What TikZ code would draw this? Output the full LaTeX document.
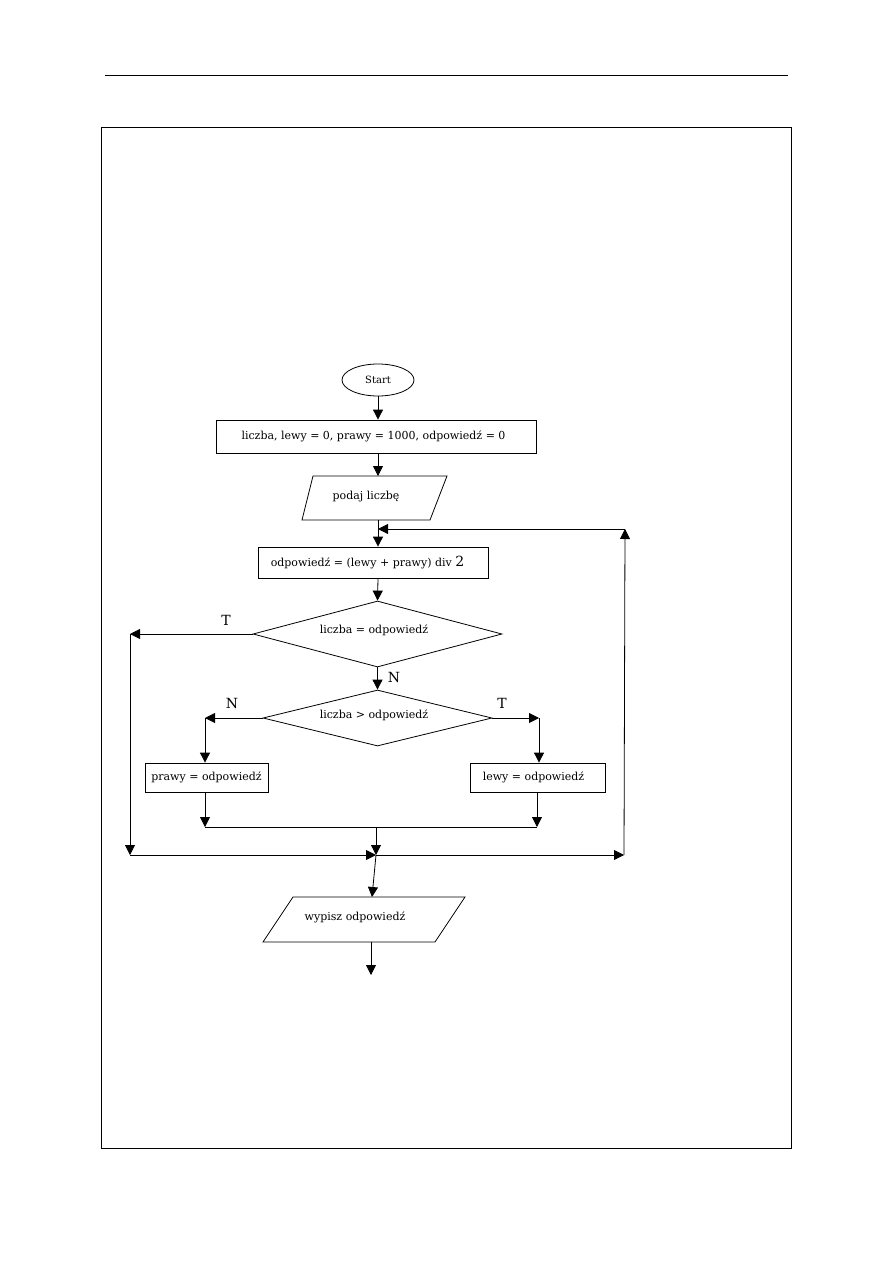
\documentclass[tikz,border=0pt]{standalone}
\usepackage{fontspec}
\setmainfont{DejaVu Serif}
\usetikzlibrary{arrows.meta,shapes.geometric}
\tikzset{
  x=1pt,y=-1pt,
  flow/.style={line width=0.8pt,-{Triangle[length=10pt,width=10pt]}},
  plain/.style={line width=0.8pt},
  txt/.style={font=\fontsize{11}{13}\selectfont,inner sep=0pt},
  lbl/.style={font=\fontsize{14}{16}\selectfont,inner sep=0pt},
  box/.style={draw,line width=0.8pt,inner sep=0pt},
}
\begin{document}
\begin{tikzpicture}
\useasboundingbox (0,0) rectangle (893,1263);
% page header line and frame
\draw[line width=1pt] (105,75) -- (788,75);
\draw[line width=1pt] (101,127) rectangle (791,1148);

% nodes
\node[draw,ellipse,line width=0.8pt,minimum width=72pt,minimum height=32pt,inner sep=0pt,font=\fontsize{10}{12}\selectfont] (start) at (378,380) {Start};
\node[box,minimum width=320pt,minimum height=33pt] (init) at (376,436.5) {};
\node[txt] at (373.5,436.5) {liczba, lewy = 0, prawy = 1000, odpowiedź = 0};
\coordinate (p1a) at (313,476); \coordinate (p1b) at (447,476);
\coordinate (p1c) at (430,520); \coordinate (p1d) at (302,520);
\draw[plain] (p1a) -- (p1b) -- (p1c) -- (p1d) -- cycle;
\node[txt] (read) at (366,497) {podaj liczbę};
\coordinate (readtop) at (378,476);
\coordinate (readbot) at (378,520);
\node[box,minimum width=230pt,minimum height=31pt] (calc) at (373,562.5) {};
\node[txt] at (367.5,562.5) {odpowiedź = (lewy + prawy) div {\fontsize{14}{16}\selectfont 2}};
\node[draw,diamond,aspect=3.77,line width=0.8pt,minimum width=249pt,minimum height=66pt,inner sep=0pt] (d1) at (377.5,634) {};
\node[txt] at (374,630) {liczba = odpowiedź};
\node[draw,diamond,aspect=4.1,line width=0.8pt,minimum width=229pt,minimum height=56pt,inner sep=0pt] (d2) at (377.5,718) {};
\node[txt] at (374,715) {liczba > odpowiedź};
\node[box,minimum width=123pt,minimum height=29pt,txt] (prawy) at (206.5,777.5) {prawy = odpowiedź};
\node[box,minimum width=135pt,minimum height=29pt] (lewy) at (537.5,777.5) {};
\node[txt] at (533.5,777.5) {lewy = odpowiedź};
\coordinate (p2a) at (293,897); \coordinate (p2b) at (465,897);
\coordinate (p2c) at (435,942); \coordinate (p2d) at (263,942);
\draw[plain] (p2a) -- (p2b) -- (p2c) -- (p2d) -- cycle;
\node[txt] (write) at (355,917) {wypisz odpowiedź};

% helper coordinates
\coordinate (axis) at (378,0);
\coordinate (loopin) at (378,529);
\coordinate (loopR) at (625,529);
\coordinate (tL) at (130,634);
\coordinate (tLb) at (130,855);
\coordinate (merge) at (376,855);
\coordinate (mergeR) at (624,855);
\coordinate (nL) at (205,718);
\coordinate (tR) at (539,718);
\coordinate (prB) at (205,827);
\coordinate (lwB) at (537,827);
\coordinate (join) at (376,827);
\coordinate (w2top) at (372,897);
\coordinate (w2bot) at (371,942);
\coordinate (endpt) at (371,975);

% connectors
\draw[flow] (start.south) -- (start.south |- init.north);
\draw[flow] (init.south -| axis) -- (readtop);
\draw[flow] (readbot) -- (readbot |- calc.north);
\draw[flow] (calc.south -| axis) -- (d1.north);
\draw[flow] (d1.west) -- (tL);
\node[lbl] at (226,620) {T};
\draw[flow] (tL) -- (tLb);
\draw[flow] (tLb) -- (merge);
\draw[flow] (d1.south) -- (d2.north);
\node[lbl] at (394,677) {N};
\draw[flow] (d2.west) -- (nL);
\node[lbl] at (232,703) {N};
\draw[flow] (nL) -- (prawy.north -| nL);
\draw[flow] (d2.east) -- (tR);
\node[lbl] at (502,703) {T};
\draw[flow] (tR) -- (lewy.north -| tR);
\draw[flow] (prawy.south -| prB) -- (prB);
\draw[flow] (lewy.south -| lwB) -- (lwB);
\draw[plain] (prB) -- (lwB);
\draw[flow] (join) -- (merge);
\draw[flow] (merge) -- (mergeR);
\draw[flow] (mergeR) -- (loopR);
\draw[flow] (loopR) -- (loopin);
\draw[flow] (merge) -- (w2top);
\draw[flow] (w2bot) -- (endpt);
\end{tikzpicture}
\end{document}
